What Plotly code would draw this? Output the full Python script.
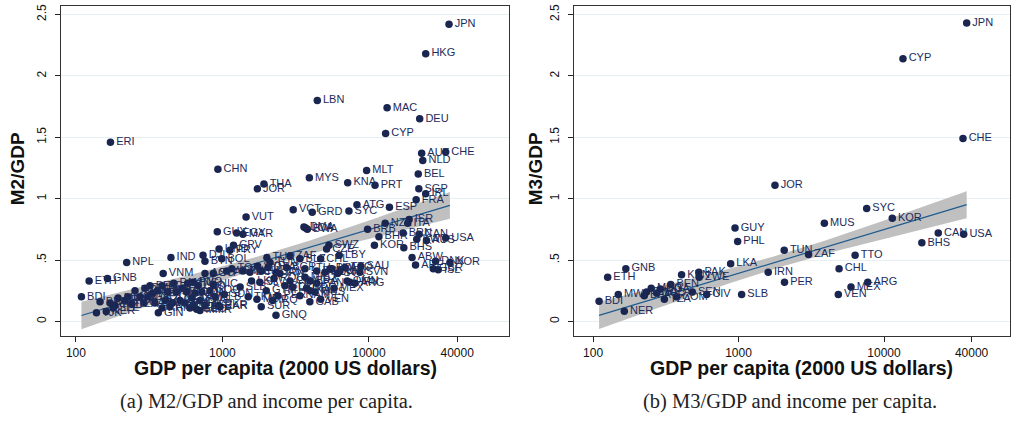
import numpy as np
import plotly.graph_objects as go

# ---------------- Panel (a): M2/GDP ----------------
m2_codes = [
    "JPN", "HKG", "LBN", "MAC", "DEU", "CYP", "ERI", "AUT", "CHE", "NLD", "CHN", "MLT", "BEL", "MYS", "KNA",
    "PRT", "THA", "JOR", "SGP", "IRL", "FRA",
    "VCT", "GRD", "ATG", "SYC", "ESP", "VUT", "NZL", "ISR", "ITA", "BRB", "DMA", "LCA", "BWA", "GUY", "EGY",
    "MAR", "CPV", "HND", "PRY", "DJI", "BTN", "BOL", "IND", "NPL",
    "BHR", "BRN", "KWT", "CAN", "AUS", "USA", "KOR", "BHS", "ABW", "ARE", "DNK", "NOR", "GBR", "ISL",
    "SWZ", "CZE", "LBY", "CHL", "MEX", "HRV", "ARG", "OMN", "VEN", "GAB", "GNQ", "TTO", "SAU", "URY", "SVN",
    "POL", "HUN", "EST", "LTU", "LVA", "SVK", "BRA", "PAN", "CRI", "MUS", "TUR", "ZAF", "BLZ", "TUN", "JAM",
    "FJI", "SYR", "IRN", "DZA", "ECU", "COL", "DOM", "NAM", "MKD", "BGR", "ROU", "KAZ", "BLR", "PER", "SLV",
    "GTM", "LKA", "PHL", "TON", "WSM", "SLB", "SUR", "MDV", "TKM", "IRQ", "SDN", "PNG", "GEO",
    "ETH", "GNB", "BDI", "VNM", "GIN", "TJK", "NER", "BFA", "MWI", "TCD", "MLI", "RWA", "MOZ", "SLE", "TZA",
    "MDG", "UGA", "CAF", "BEN", "GMB", "TGO", "KEN", "LAO", "GHA", "KHM", "BGD", "HTI", "NGA", "ZMB", "KGZ",
    "PAK", "YEM", "SEN", "CIV", "CMR", "MNG", "ARM", "UZB", "MDA", "LSO", "COM", "ZWE", "AZE", "COG", "NIC",
    "IDN", "ALB", "UKR", "TLS", "ZAR", "MMR", "STP", "AGO",
]
m2_gdp = [
    35200, 24400, 4440, 13300, 22200, 13000, 172, 22900, 33400, 23300, 931, 9640, 21700, 3920, 7160,
    11000, 1920, 1730, 21900, 24400, 21000,
    3040, 4100, 8280, 7300, 13800, 1450, 12900, 18800, 18400, 9790, 3600, 3700, 3800, 922, 1250,
    1380, 1190, 948, 1125, 737, 760, 990, 445, 222,
    11700, 17100, 21200, 22000, 24700, 33400, 10900, 17300, 19700, 20800, 28500, 35700, 27500, 29700,
    5330, 5140, 6270, 4680, 5780, 7420, 8020, 7100, 4680, 3950, 2320, 6860, 8810, 6340, 8680,
    5420, 5010, 4400, 3660, 5600, 6100, 3960, 4400, 3750, 4280, 2010, 2890, 3380, 2110, 2330,
    1850, 1740, 2470, 2050, 1540, 2890, 3000, 3380, 3660, 2740, 2250, 3960, 2670, 2390, 1800,
    1990, 1580, 1380, 1160, 1070, 1320, 1840, 1720, 1500, 2200, 1030, 630, 667,
    123, 164, 109, 394, 365, 138, 161, 146, 171, 185, 194, 216, 226, 179, 241,
    253, 274, 291, 320, 296, 310, 333, 346, 360, 387, 387, 423, 456, 409, 438,
    465, 513, 483, 534, 555, 580, 620, 600, 649, 680, 570, 702, 760, 822, 866,
    724, 889, 940, 630, 962, 702, 866, 760,
]
m2_ratio = [
    2.42, 2.18, 1.80, 1.74, 1.65, 1.53, 1.46, 1.37, 1.38, 1.31, 1.24, 1.23, 1.20, 1.17, 1.13,
    1.11, 1.12, 1.08, 1.08, 1.04, 0.99,
    0.91, 0.89, 0.95, 0.90, 0.93, 0.85, 0.80, 0.83, 0.80, 0.75, 0.77, 0.76, 0.75, 0.73, 0.72,
    0.71, 0.62, 0.59, 0.58, 0.54, 0.49, 0.51, 0.52, 0.48,
    0.69, 0.72, 0.67, 0.71, 0.66, 0.68, 0.62, 0.60, 0.52, 0.46, 0.49, 0.48, 0.43, 0.42,
    0.62, 0.59, 0.54, 0.51, 0.27, 0.32, 0.31, 0.33, 0.18, 0.16, 0.05, 0.44, 0.45, 0.41, 0.40,
    0.43, 0.40, 0.41, 0.43, 0.43, 0.39, 0.33, 0.31, 0.27, 0.24, 0.52, 0.53, 0.51, 0.48, 0.40,
    0.41, 0.45, 0.39, 0.44, 0.40, 0.33, 0.28, 0.21, 0.36, 0.44, 0.35, 0.25, 0.29, 0.21, 0.32,
    0.25, 0.33, 0.41, 0.43, 0.41, 0.28, 0.12, 0.18, 0.20, 0.17, 0.22, 0.32, 0.10,
    0.33, 0.35, 0.20, 0.39, 0.07, 0.07, 0.08, 0.16, 0.15, 0.13, 0.19, 0.17, 0.20, 0.11, 0.14,
    0.25, 0.20, 0.15, 0.29, 0.27, 0.20, 0.23, 0.15, 0.25, 0.11, 0.29, 0.24, 0.15, 0.17, 0.12,
    0.31, 0.17, 0.24, 0.27, 0.15, 0.31, 0.19, 0.11, 0.23, 0.29, 0.24, 0.17, 0.13, 0.25, 0.30,
    0.24, 0.20, 0.13, 0.13, 0.12, 0.09, 0.39, 0.39,
]

# ---------------- Panel (b): M3/GDP ----------------
m3_codes = [
    "JPN", "CYP", "CHE", "JOR", "SYC", "KOR", "MUS", "GUY", "CAN", "USA", "BHS", "PHL", "TUN", "ZAF", "TTO",
    "LKA", "GNB", "CHL", "ETH", "IRN", "KEN", "PAK", "ZWE", "PER", "ARG", "MEX", "VEN", "SLB", "BEN", "MWI",
    "BDI", "NER", "SEN", "CIV", "COM", "TZA", "MDG", "BFA", "RWA", "TGO", "UGA",
]
m3_gdp = [
    37000, 13500, 34900, 1780, 7600, 11400, 3890, 946, 23600, 35300, 18200, 986, 2060, 3030, 6330,
    883, 168, 4910, 126, 1600, 406, 534, 537, 2070, 7730, 5930, 4850, 1050, 342, 149,
    110, 164, 481, 604, 374, 309, 251, 225, 233, 274, 290,
]
m3_ratio = [
    2.43, 2.14, 1.49, 1.11, 0.92, 0.84, 0.80, 0.76, 0.72, 0.71, 0.64, 0.65, 0.58, 0.545, 0.54,
    0.47, 0.43, 0.43, 0.36, 0.40, 0.38, 0.40, 0.36, 0.32, 0.32, 0.28, 0.22, 0.22, 0.30, 0.22,
    0.165, 0.083, 0.24, 0.22, 0.20, 0.18, 0.27, 0.21, 0.24, 0.23, 0.265,
]

x_ticks = [100, 1000, 10000, 40000]
x_ticktext = ["100", "1000", "10000", "40000"]
y_ticks = [0, 0.5, 1, 1.5, 2, 2.5]
y_ticktext = ["0", ".5", "1", "1.5", "2", "2.5"]

MARK = "#1a2650"
TXT = "#1c2b5a"
FITC = "#1f5b8e"
BAND = "#c0c0c0"
GRID = "#e6eff1"
W, H = 1019, 424


def fit_coeffs(gdp, ratio):
    lx = np.log10(np.asarray(gdp, float))
    y = np.asarray(ratio, float)
    b, a = np.polyfit(lx, y, 1)
    resid = y - (a + b * lx)
    nn = len(y)
    s = np.sqrt(np.sum(resid ** 2) / (nn - 2))
    xbar = lx.mean()
    sxx = np.sum((lx - xbar) ** 2)
    return a, b, s, nn, xbar, sxx


def band_over(coef, gdp_range, n=120):
    a, b, s, nn, xbar, sxx = coef
    lx = np.log10(np.asarray(gdp_range, float))
    gx = np.linspace(lx.min(), lx.max(), n)
    gy = a + b * gx
    se = s * np.sqrt(1.0 / nn + (gx - xbar) ** 2 / sxx)
    t = 1.976
    return 10 ** gx, gy, gy - t * se, gy + t * se


# the reference draws the same fitted line (estimated on the M2 sample) in both panels
coef_m2 = fit_coeffs(m2_gdp, m2_ratio)

fig = go.Figure()

panels = [
    (m2_codes, m2_gdp, m2_ratio, "x", "y"),
    (m3_codes, m3_gdp, m3_ratio, "x2", "y2"),
]
for codes, gdp, ratio, xa, ya in panels:
    fx, fy, lo, hi = band_over(coef_m2, gdp)
    fig.add_trace(go.Scatter(
        x=np.concatenate([fx, fx[::-1]]), y=np.concatenate([hi, lo[::-1]]),
        fill="toself", fillcolor=BAND, line=dict(width=0), mode="lines",
        hoverinfo="skip", showlegend=False, xaxis=xa, yaxis=ya))
    fig.add_trace(go.Scatter(
        x=fx, y=fy, mode="lines", line=dict(color=FITC, width=1.2),
        showlegend=False, xaxis=xa, yaxis=ya))
    fig.add_trace(go.Scatter(
        x=gdp, y=ratio, text=codes, mode="markers+text", textposition="middle right",
        marker=dict(color=MARK, size=7.5, line=dict(width=0)),
        textfont=dict(family="Liberation Sans, Arial", size=11, color=TXT),
        showlegend=False, xaxis=xa, yaxis=ya))

y_dom = [1 - 336 / H, 1 - 4 / H]
common_x = dict(
    type="log", tickvals=x_ticks, ticktext=x_ticktext, ticks="outside", ticklen=5,
    tickcolor="#222", showgrid=False, zeroline=False, showline=True, linecolor="#333",
    linewidth=1, mirror=True,
    tickfont=dict(family="Liberation Sans, Arial", size=12, color="#111"),
)
common_y = dict(
    range=[-0.122, 2.569], tickvals=y_ticks, ticktext=y_ticktext, ticks="outside", ticklen=5,
    tickcolor="#222", tickangle=-90, showgrid=True, gridcolor=GRID, gridwidth=1,
    zeroline=False, showline=True, linecolor="#333", linewidth=1, mirror=True,
    ticklabelstandoff=4,
    tickfont=dict(family="Liberation Sans, Arial", size=12, color="#111"),
)
fig.update_layout(
    width=W, height=H, margin=dict(l=0, r=0, t=0, b=0),
    paper_bgcolor="white", plot_bgcolor="white",
    xaxis=dict(domain=[61 / W, 509 / W], range=[1.898, 4.956], anchor="y", **common_x),
    yaxis=dict(domain=y_dom, anchor="x", **common_y),
    xaxis2=dict(domain=[574 / W, 1010 / W], range=[1.869, 4.866], anchor="y2", **common_x),
    yaxis2=dict(domain=y_dom, anchor="x2", **common_y),
)

ann = []
for cx, label in [(285, "GDP per capita (2000 US dollars)"), (801, "GDP per capita (2000 US dollars)")]:
    ann.append(dict(x=cx / W, y=1 - 368 / H, xref="paper", yref="paper", text="<b>%s</b>" % label,
                    showarrow=False, xanchor="center", yanchor="middle",
                    font=dict(family="Liberation Sans, Arial", size=19.5, color="#111")))
for cx, label in [(17, "M2/GDP"), (535, "M3/GDP")]:
    ann.append(dict(x=cx / W, y=1 - 168 / H, xref="paper", yref="paper", text="<b>%s</b>" % label,
                    showarrow=False, textangle=-90, xanchor="center", yanchor="middle",
                    font=dict(family="Liberation Sans, Arial", size=19, color="#111")))
for cx, label in [(266, "(a) M2/GDP and income per capita."), (790, "(b) M3/GDP and income per capita.")]:
    ann.append(dict(x=cx / W, y=1 - 401 / H, xref="paper", yref="paper", text=label,
                    showarrow=False, xanchor="center", yanchor="middle",
                    font=dict(family="Liberation Serif, serif", size=20.5, color="#222")))
fig.update_layout(annotations=ann)

fig.write_html("out.html", config={"displayModeBar": False},
               post_script="document.body.style.margin='0px';")
